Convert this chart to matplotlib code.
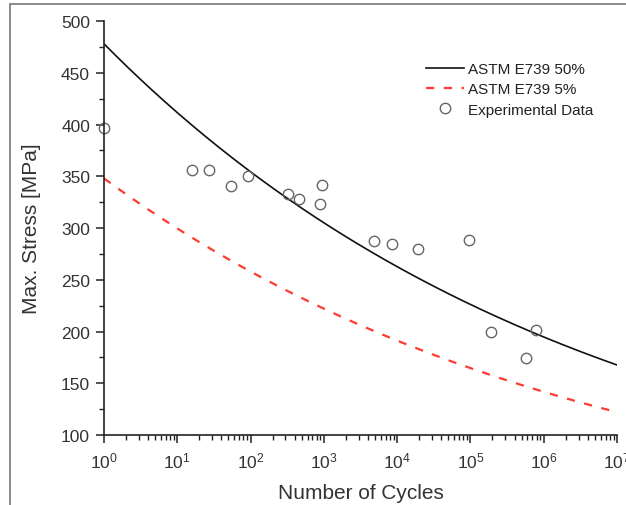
import matplotlib
matplotlib.use("Agg")
import numpy as np
import matplotlib.pyplot as plt
from matplotlib.patches import Rectangle
from matplotlib.ticker import LogLocator, MultipleLocator, NullFormatter

plt.rcParams['font.family'] = ['Liberation Sans', 'DejaVu Sans']
plt.rcParams['mathtext.fontset'] = 'custom'
plt.rcParams['mathtext.rm'] = 'Liberation Sans'
plt.rcParams['mathtext.it'] = 'Liberation Sans'
plt.rcParams['mathtext.default'] = 'regular'

# Experimental fatigue results: cycles to failure and maximum stress (MPa)
exp_cycles = [1, 16, 27, 54, 92, 320, 460, 880, 940, 4800, 8500, 19000,
              95000, 190000, 570000, 780000]
exp_stress = [397, 356, 356, 341, 350, 333, 328, 323, 342, 287, 285, 280,
              288, 200, 174, 201]

# ASTM E739 power-law fits, S = S1 * N**b (S1 = stress at N = 1)
fit_exponent = -0.065
s1_median = 478.0      # 50 % survival
s1_lower = 348.0       # 5 % survival
life_range = (1e0, 1e7)

x_ticks = [1e0, 1e1, 1e2, 1e3, 1e4, 1e5, 1e6, 1e7]
x_ticklabels = [r'$10^{%d}$' % i for i in range(8)]
y_ticks = [100, 150, 200, 250, 300, 350, 400, 450, 500]

fig = plt.figure(figsize=(6.26, 5.06), dpi=100)
ax = fig.add_axes([0.166, 0.1383, 0.8196, 0.8182])

# thin outer frame around the figure
fig.patches.append(Rectangle((10 / 626, -0.1), 1.2, 1.1 - 5 / 506,
                             transform=fig.transFigure, fill=False,
                             edgecolor='#777777', linewidth=1.2))

n_curve = np.logspace(np.log10(life_range[0]), np.log10(life_range[1]), 300)
ax.plot(n_curve, s1_median * n_curve ** fit_exponent, color='#111111',
        lw=1.2, label='ASTM E739 50%')
ax.plot(n_curve, s1_lower * n_curve ** fit_exponent, color='#ff3b2f',
        lw=1.6, dashes=(3.7, 4.3), label='ASTM E739 5%')
ax.plot(exp_cycles, exp_stress, ls='none', marker='o', ms=7.5,
        mfc='none', mec='#666666', mew=1.0, clip_on=False,
        label='Experimental Data')

ax.set_xscale('log')
ax.set_xlim(*life_range)
ax.set_ylim(100, 500)
ax.set_xticks(x_ticks)
ax.set_xticklabels(x_ticklabels)
ax.xaxis.set_minor_locator(LogLocator(base=10, subs=range(2, 10), numticks=20))
ax.xaxis.set_minor_formatter(NullFormatter())
ax.set_yticks(y_ticks)
ax.yaxis.set_minor_locator(MultipleLocator(25))

for side in ('top', 'right'):
    ax.spines[side].set_visible(False)
for side in ('left', 'bottom'):
    ax.spines[side].set_linewidth(1.2)
    ax.spines[side].set_color('#222222')

ax.tick_params(axis='both', which='major', length=6, width=1.1,
               color='#222222', labelsize=12.5, labelcolor='#333333', pad=4)
ax.tick_params(axis='both', which='minor', length=3.5, width=1.0,
               color='#222222')
ax.tick_params(axis='x', which='major', pad=5)

ax.set_xlabel('Number of Cycles', fontsize=15, color='#333333', labelpad=9)
ax.set_ylabel('Max. Stress [MPa]', fontsize=15, color='#333333', labelpad=14)

leg = ax.legend(loc='upper left', bbox_to_anchor=(426 / 626, 1 - 63 / 506),
                bbox_transform=fig.transFigure, frameon=False, fontsize=11,
                handlelength=2.5, handletextpad=0.25, labelspacing=0.42,
                borderpad=0, borderaxespad=0)
for t in leg.get_texts():
    t.set_color('#222222')

fig.savefig('out.png', dpi=100)
